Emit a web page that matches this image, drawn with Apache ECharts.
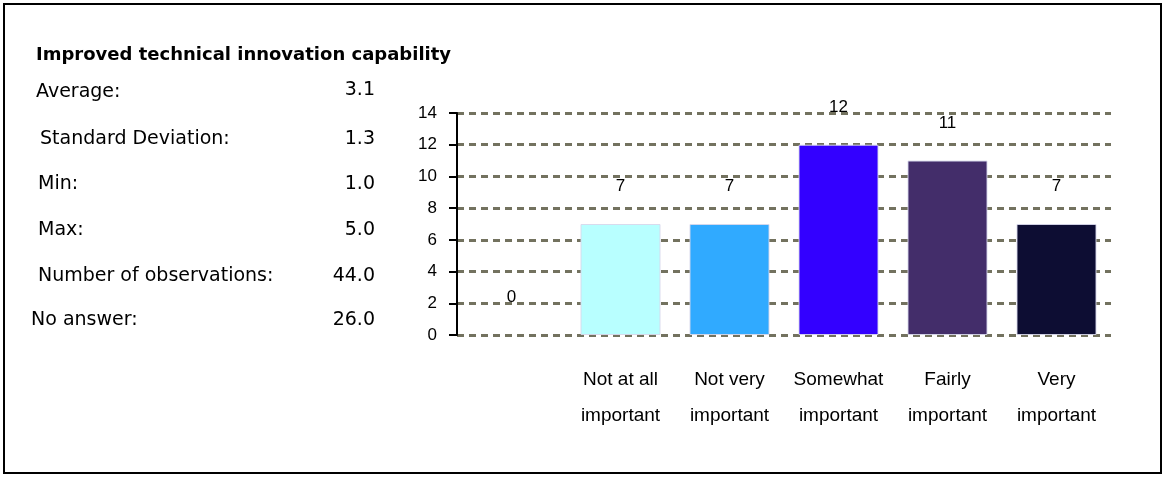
<!DOCTYPE html>
<html>
<head>
<meta charset="utf-8">
<script src="https://cdn.jsdelivr.net/npm/echarts@6/dist/echarts.min.js"></script>
<style>
  html, body { margin: 0; padding: 0; background: #fff; }
  #chart { width: 1166px; height: 478px; }
</style>
</head>
<body>
<div id="chart"></div>
<script>
// Response categories (first slot is the unlabelled "no rating" column)
const categories = ['', 'Not at all\nimportant', 'Not very\nimportant', 'Somewhat\nimportant', 'Fairly\nimportant', 'Very\nimportant'];
const counts = [0, 7, 7, 12, 11, 7];
const barColors = ['#b8ffff', '#b8ffff', '#30aaff', '#3300ff', '#432d6a', '#0d0d33'];
const yTicks = { min: 0, max: 14, interval: 2 };

// Summary statistics shown beside the chart
const chartTitle = 'Improved technical innovation capability';
const statLabels = ['Average:', 'Standard Deviation:', 'Min:', 'Max:', 'Number of observations:', 'No answer:'];
const statValues = ['3.1', '1.3', '1.0', '5.0', '44.0', '26.0'];

const chart = echarts.init(document.getElementById('chart'), null, { renderer: 'canvas' });

const statRowsY = [92, 139, 184, 230, 276, 320];
const statLabelX = [36, 40, 38, 38, 38, 31];
const statFont = '19px "DejaVu Sans"';

const graphics = [
  {
    type: 'rect',
    shape: { x: 4, y: 4, width: 1157, height: 469 },
    style: { fill: 'none', stroke: '#000', lineWidth: 2 },
    silent: true
  },
  {
    type: 'text',
    left: 36, top: 46,
    style: { text: chartTitle, fill: '#000', font: 'bold 18px "DejaVu Sans"' }
  }
];
statLabels.forEach((lab, i) => {
  graphics.push({
    type: 'text',
    x: statLabelX[i], y: statRowsY[i],
    style: { text: lab, fill: '#000', font: statFont, textVerticalAlign: 'middle' }
  });
  graphics.push({
    type: 'text',
    x: 375, y: statRowsY[i] - (i === 0 ? 2 : 0),
    style: { text: statValues[i], fill: '#000', font: statFont, textAlign: 'right', textVerticalAlign: 'middle' }
  });
});

chart.setOption({
  animation: false,
  backgroundColor: '#fff',
  grid: { left: 457, right: 55, top: 113, bottom: 143, containLabel: false },
  xAxis: {
    type: 'category',
    data: categories,
    axisLine: { show: false },
    axisTick: { show: false },
    axisLabel: {
      interval: 0,
      margin: 27,
      color: '#000',
      fontFamily: '"Liberation Sans Narrow", "Liberation Sans", Arial',
      fontSize: 19,
      lineHeight: 36
    }
  },
  yAxis: {
    type: 'value',
    min: yTicks.min,
    max: yTicks.max,
    interval: yTicks.interval,
    axisLine: { show: true, lineStyle: { color: '#000', width: 2 } },
    axisTick: { show: true, length: 8, lineStyle: { color: '#000', width: 2 } },
    axisLabel: { margin: 20, color: '#000', fontFamily: '"Liberation Sans", Arial', fontSize: 17 },
    splitLine: { show: true, lineStyle: { color: '#73725f', width: 3, type: [7, 5] } }
  },
  series: [{
    type: 'bar',
    data: counts.map((v, i) => ({
      value: v,
      itemStyle: {
        color: barColors[i],
        borderColor: 'rgba(215,215,235,0.9)',
        borderWidth: v > 0 ? 1 : 0
      }
    })),
    barWidth: 80,
    label: {
      show: true,
      position: 'top',
      distance: 29,
      color: '#000',
      fontFamily: '"Liberation Sans", Arial',
      fontSize: 17
    }
  }],
  graphic: graphics
});
</script>
</body>
</html>
